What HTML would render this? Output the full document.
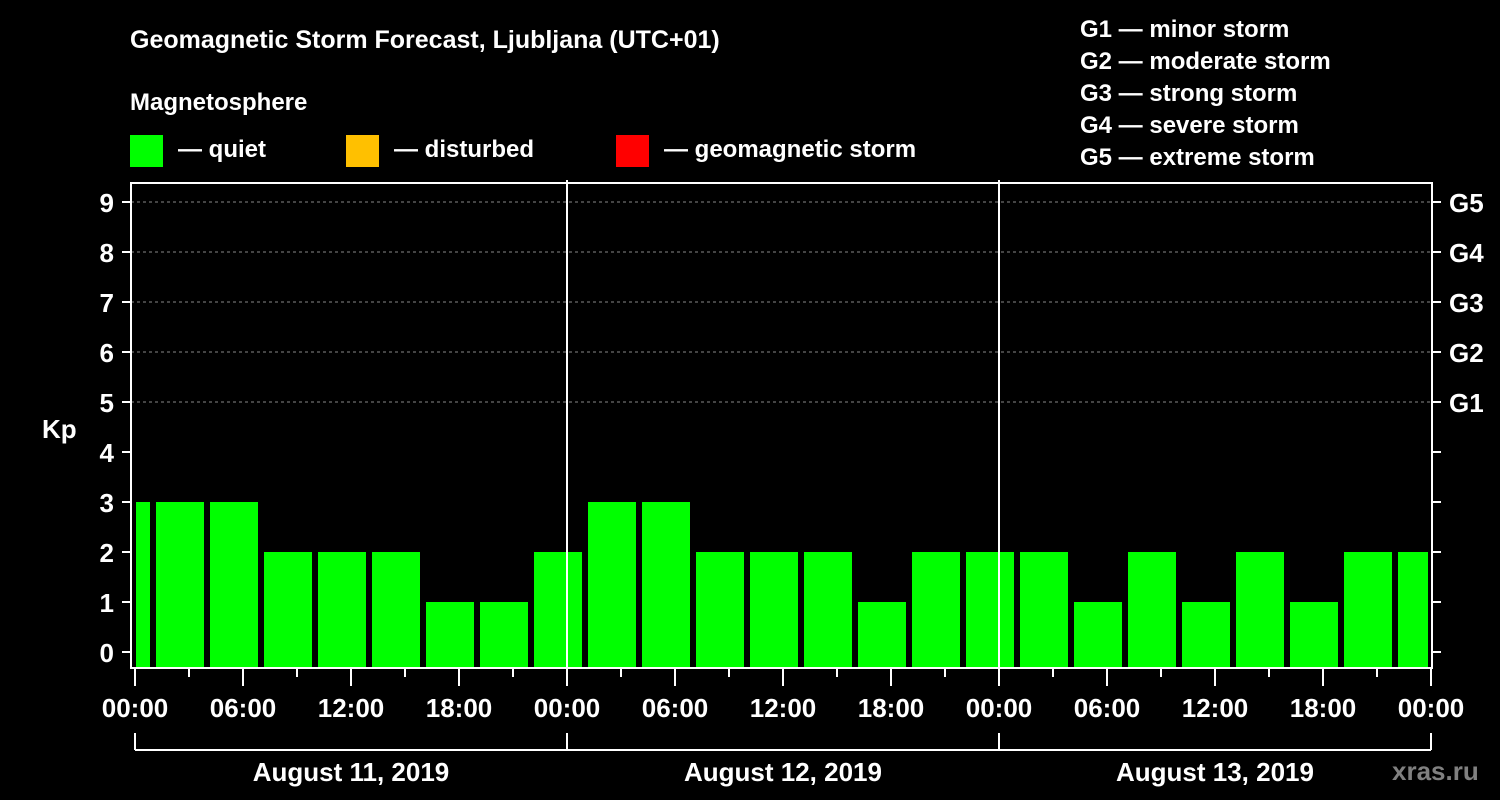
<!DOCTYPE html>
<html><head><meta charset="utf-8"><style>
html,body{margin:0;padding:0;background:#000;}
svg{display:block;font-family:"Liberation Sans",Arial,sans-serif;font-weight:bold;}
</style></head><body>
<svg id="chart" width="1500" height="800" viewBox="0 0 1500 800" xmlns="http://www.w3.org/2000/svg">
<rect width="1500" height="800" fill="#000"/>
<text x="130" y="48" fill="#fff" font-size="25">Geomagnetic Storm Forecast, Ljubljana (UTC+01)</text>
<text x="130" y="110" fill="#fff" font-size="24">Magnetosphere</text>
<g><rect x="130" y="135" width="33" height="32" fill="#00ff00"/><text x="178" y="157" fill="#fff" font-size="24">— quiet</text></g>
<g><rect x="346" y="135" width="33" height="32" fill="#ffc000"/><text x="394" y="157" fill="#fff" font-size="24">— disturbed</text></g>
<g><rect x="616" y="135" width="33" height="32" fill="#ff0000"/><text x="664" y="157" fill="#fff" font-size="24">— geomagnetic storm</text></g>
<g fill="#fff" font-size="24">
<text x="1080" y="37">G1 — minor storm</text>
<text x="1080" y="69">G2 — moderate storm</text>
<text x="1080" y="101">G3 — strong storm</text>
<text x="1080" y="133">G4 — severe storm</text>
<text x="1080" y="165">G5 — extreme storm</text>
</g>
<text x="42" y="438" fill="#fff" font-size="26">Kp</text>
<text x="1392" y="780" fill="#808080" font-size="26">xras.ru</text>
<g id="grid"></g><g id="bars"></g><g id="axes"></g>
</svg>
<script>
const kpValues = [3,3,3,2,2,2,1,1,2, 3,3,2,2,2,1,2,2,2, 1,2,1,2,1,2,2];
const slotStartHour = -2;
const yTicks = [0,1,2,3,4,5,6,7,8,9];
const gLabels = ["G1","G2","G3","G4","G5"];
const gLevels = [5,6,7,8,9];
const xTickLabels = ["00:00","06:00","12:00","18:00","00:00","06:00","12:00","18:00","00:00","06:00","12:00","18:00","00:00"];
const dayLabels = ["August 11, 2019","August 12, 2019","August 13, 2019"];

const NS="http://www.w3.org/2000/svg";
const X0=135, PXH=18, L=131, R=1432, T=183, B=668;
const xs=h=>X0+h*PXH;
const ys=v=>652-v*50;
function mk(tag,attrs,parent,txt){const e=document.createElementNS(NS,tag);for(const k in attrs)e.setAttribute(k,attrs[k]);if(txt!==undefined)e.textContent=txt;parent.appendChild(e);return e;}
const grid=document.getElementById('grid'),bars=document.getElementById('bars'),axes=document.getElementById('axes');

gLevels.forEach((lv,i)=>{
  const l=mk('line',{x1:L,x2:R,y1:ys(lv),y2:ys(lv),stroke:'#888','stroke-dasharray':'3,3','stroke-width':1},grid);
  
  
  const t=mk('text',{x:1449,y:ys(lv)+10,fill:'#fff','font-size':26},axes,gLabels[i]);
  
  
});
function col(v){return v>=5?'#ff0000':(v>=4?'#ffc000':'#00ff00');}
kpValues.forEach((v,i)=>{
  let x1=xs(slotStartHour+i*3)+3, x2=xs(slotStartHour+i*3+3)-3;
  x1=Math.max(x1,136); x2=Math.min(x2,1428);
  if(x2<=x1)return;
  const r=mk('rect',{x:x1,y:ys(v),width:x2-x1,height:667-ys(v),fill:col(v)},bars);
  
  
});
mk('path',{d:`M${L} ${T}H${R}V${B}H${L}Z`,fill:'none',stroke:'#fff','stroke-width':2},axes);
[1,2].forEach(d=>{const l=mk('line',{x1:xs(24*d),x2:xs(24*d),y1:T-3,y2:B,stroke:'#fff','stroke-width':2},axes);
  
  });
yTicks.forEach(v=>{
  mk('line',{x1:122,x2:L,y1:ys(v),y2:ys(v),stroke:'#fff','stroke-width':2},axes);
  mk('line',{x1:R,x2:1441,y1:ys(v),y2:ys(v),stroke:'#fff','stroke-width':2},axes);
  const t=mk('text',{x:114,y:ys(v)+10,fill:'#fff','font-size':26,'text-anchor':'end'},axes,String(v));
  
  
});
for(let h=0;h<=72;h+=3){
  const major=h%6===0;
  mk('line',{x1:xs(h),x2:xs(h),y1:B,y2:major?B+18:B+9,stroke:'#fff','stroke-width':2},axes);
}
xTickLabels.forEach((s,i)=>{
  const t=mk('text',{x:xs(i*6),y:717,fill:'#fff','font-size':26,'text-anchor':'middle'},axes,s);
  
  
});
mk('line',{x1:xs(0),x2:xs(72),y1:750,y2:750,stroke:'#fff','stroke-width':2},axes);
for(let d=0;d<=3;d++) mk('line',{x1:xs(24*d),x2:xs(24*d),y1:733,y2:750,stroke:'#fff','stroke-width':2},axes);
dayLabels.forEach((s,i)=>{
  const t=mk('text',{x:xs(24*i+12),y:781,fill:'#fff','font-size':26,'text-anchor':'middle'},axes,s);
  
  
});
</script>
</body></html>
